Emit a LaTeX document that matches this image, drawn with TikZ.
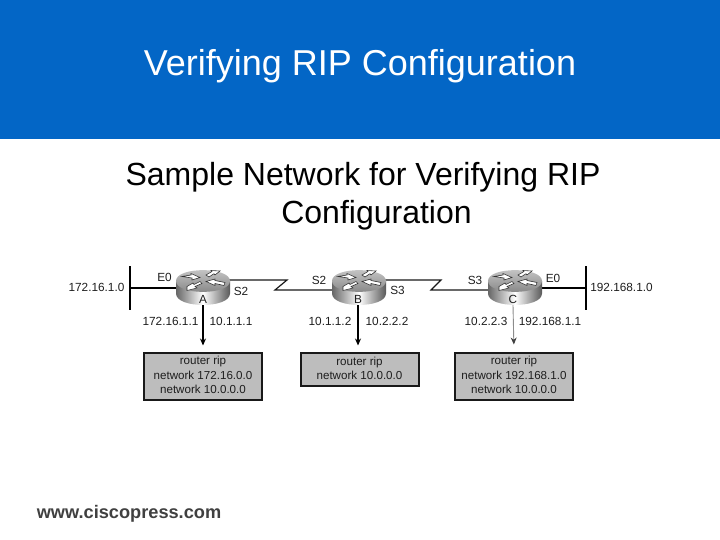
\documentclass[tikz,border=0pt]{standalone}
\usepackage{fontspec}
\setmainfont{Liberation Sans}
\usetikzlibrary{calc,arrows.meta}
\definecolor{band}{RGB}{3,102,198}
\definecolor{ink}{RGB}{30,30,30}
\tikzset{
  x=1pt,y=-1pt,
  lab/.style={inner sep=0pt,text=ink,font=\fontsize{11.8}{14}\selectfont},
  cfg/.style={draw=black!90,line width=2pt,fill=black!26,inner sep=0pt,align=center,text=ink,
    font=\fontsize{11.6}{14.4}\selectfont,minimum width=118pt},
  routerbox/.style={inner sep=0pt,minimum width=54pt,minimum height=35pt},
  wire/.style={line width=1.5pt,black},
  thinwire/.style={line width=1.2pt,black!90},
  bar/.style={inner sep=0pt,minimum width=2pt,minimum height=44pt,fill=black},
  drop/.style={line width=1.3pt,black,-{Stealth[length=7pt,width=6pt]},shorten >=6pt},
  dropgray/.style={line width=.9pt,black!45,-{Stealth[length=7pt,width=6pt,color=black!75]},shorten >=7pt},
  harrow/.style={fill=white,draw=black!80,line width=.6pt},
}
\newcommand{\routerdraw}[1]{%
  \begin{scope}[shift={(#1)}]
    \path[left color=black!60,right color=black!65,middle color=white,draw=none]
      (-27,-6.5) -- (-27,6) .. controls (-27,21.3) and (27,21.3) .. (27,6) -- (27,-6.5) -- cycle;
    \path[draw=none,top color=black!20,bottom color=black!50]
      (-27,-6.5) .. controls (-27,-21) and (27,-21) .. (27,-6.5) .. controls (27,8) and (-27,8) .. (-27,-6.5) -- cycle;
    \draw[harrow] (-21,-11) -- (-12,-12.5) -- (-12,-14) -- (-3,-10) -- (-11,-7.5) -- (-11,-9.5) -- cycle;
    \draw[harrow] (3,-12.5) -- (9,-16) -- (8,-17) -- (17,-16.5) -- (12,-12.5) -- (11,-13.8) -- (6,-10.5) -- cycle;
    \draw[harrow] (-3,-6) -- (-9,-3) -- (-10,-4.5) -- (-16,-1) -- (-16,3) -- (-6,0.5) -- (-8,-1) -- (-1,-4) -- cycle;
    \draw[harrow] (3,-6) -- (12,-8.5) -- (12,-7) -- (22,-5) -- (21,-2) -- (12,-4) -- (12,-2) -- cycle;
  \end{scope}}
\begin{document}
\begin{tikzpicture}
\useasboundingbox (0,0) rectangle (720,540);
\fill[band] (0,0) rectangle (720,139);

\node[inner sep=0pt,text=white,font=\fontsize{36}{43}\selectfont] (title) at (360,66.5) {Verifying RIP Configuration};
\node[inner sep=0pt,text=black,align=center,font=\fontsize{32}{37.5}\selectfont] (sub) at (363,196) {Sample Network for Verifying RIP\\\hspace*{27pt}Configuration};
\node[inner sep=0pt,text=black!75,font=\bfseries\fontsize{18.2}{20}\selectfont] (site) at (129,514) {www.ciscopress.com};

% routers
\node[routerbox] (ra) at (203,287.5) {};
\node[routerbox] (rb) at (359,287.5) {};
\node[routerbox] (rc) at (515,287.5) {};

% bars
\node[bar] (bara) at (130,288) {};
\node[bar] (barc) at (586,288) {};

% wires behind routers
\draw[wire] (bara.center) -- (ra.west |- bara.center);
\draw[wire] (barc.center) -- (rc.east |- barc.center);
\coordinate (ka) at (287,280);
\coordinate (kb) at (275,290);
\coordinate (kc) at (441,280);
\coordinate (kd) at (431,290);
\draw[thinwire] ($(ra.east)+(-2,-7.5)$) -- (ka) -- (kb) -- ($(rb.west)+(1,2.5)$);
\draw[thinwire] ($(rb.east)+(-2,-7.5)$) -- (kc) -- (kd) -- ($(rc.west)+(1,2.5)$);

\routerdraw{203,287.5}
\routerdraw{359,287.5}
\routerdraw{515,287.5}

\node[lab] (la) at (203,299) {A};
\node[lab] (lb) at (358,299) {B};
\node[lab] (lc) at (513,299) {C};

% config boxes
\node[cfg,minimum height=47pt] (ba) at (203,376) {router rip\\network 172.16.0.0\\network 10.0.0.0\vspace{1.5pt}};
\node[cfg,minimum height=33pt] (bb) at (359.5,369) {router rip\\network 10.0.0.0\vspace{1.5pt}};
\node[cfg,minimum height=47pt] (bc) at (514,376) {router rip\\network 192.168.1.0\\network 10.0.0.0\vspace{1.5pt}};

\draw[drop] (ra.south) -- (ba.north);
\draw[drop] ($(rb.south)+(-1,0)$) -- ($(bb.north)+(-1.5,0)$);
\draw[dropgray] ($(rc.south)+(-2,0)$) -- (bc.north);

% labels
\node[lab] (n1) at (96.5,287) {172.16.1.0};
\node[lab] (n2) at (621.5,287) {192.168.1.0};
\node[lab] (e1) at (164.5,277.5) {E0};
\node[lab] (s1) at (241,291) {S2};
\node[lab] (s2) at (319,280) {S2};
\node[lab] (s3) at (397.5,290.5) {S3};
\node[lab] (s4) at (475,280) {S3};
\node[lab] (e2) at (553,278) {E0};
\node[lab] (i1) at (170.5,321) {172.16.1.1};
\node[lab] (i2) at (231,321) {10.1.1.1};
\node[lab] (i3) at (330,321) {10.1.1.2};
\node[lab] (i4) at (387,321) {10.2.2.2};
\node[lab] (i5) at (486,321) {10.2.2.3};
\node[lab] (i6) at (550,321) {192.168.1.1};
\end{tikzpicture}
\end{document}
